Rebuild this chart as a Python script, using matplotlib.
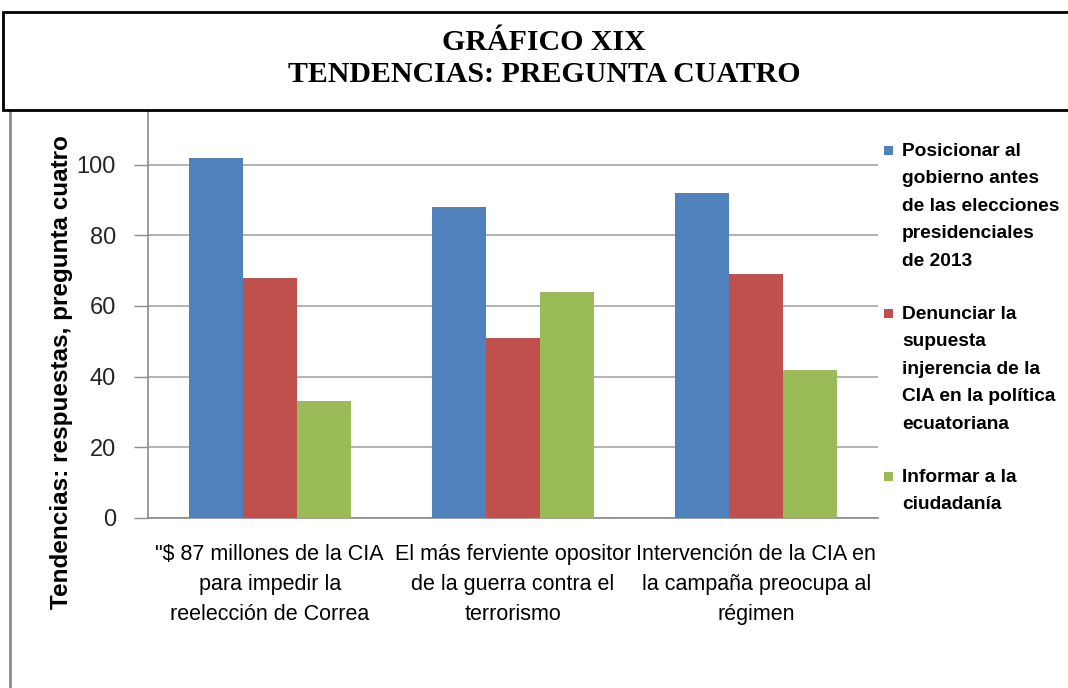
import matplotlib
matplotlib.use('Agg')
import matplotlib.pyplot as plt
from matplotlib.patches import Rectangle
from matplotlib.lines import Line2D
import numpy as np

# ---- data ----
categories = ['"$ 87 millones de la CIA\npara impedir la\nreelección de Correa',
              'El más ferviente opositor\nde la guerra contra el\nterrorismo',
              'Intervención de la CIA en\nla campaña preocupa al\nrégimen']
series_names = ['Posicionar al\ngobierno antes\nde las elecciones\npresidenciales\nde 2013',
                'Denunciar la\nsupuesta\ninjerencia de la\nCIA en la política\necuatoriana',
                'Informar a la\nciudadanía']
posicionar = [102, 88, 92]
denunciar = [68, 51, 69]
informar = [33, 64, 42]
y_ticks = [0, 20, 40, 60, 80, 100]
title_lines = ['GRÁFICO XIX', 'TENDENCIAS: PREGUNTA CUATRO']
y_label = 'Tendencias: respuestas, pregunta cuatro'
colors = ['#4F81BD', '#C0504D', '#9BBB59']

NARROW = ['Liberation Sans Narrow', 'Liberation Sans', 'DejaVu Sans']
SERIF = ['Liberation Serif', 'DejaVu Serif']

W, H = 1068, 688
fig = plt.figure(figsize=(W / 100, H / 100), dpi=100)
fig.patch.set_facecolor('white')


def fx(px):
    return px / W


def fy(py):
    return 1 - py / H


y0_px, ytop_px = 517.8, 94.1  # pixel rows of 0 and 120
ax = fig.add_axes([fx(148), fy(y0_px), fx(878) - fx(148), (y0_px - ytop_px) / H])

series = [posicionar, denunciar, informar]
x = np.arange(len(categories))
bw = 0.2217
for i, (vals, c) in enumerate(zip(series, colors)):
    ax.bar(x + (i - 1) * bw, vals, width=bw, color=c, edgecolor='none', zorder=3)

ax.set_xlim(-0.5, len(categories) - 0.5)
ax.set_ylim(0, 120)
ax.set_yticks(y_ticks)
ax.set_yticklabels([str(v) for v in y_ticks], fontfamily=NARROW, fontsize=17, color='#262626')
ax.set_xticks(x)
ax.set_xticklabels(categories, fontfamily=NARROW, fontsize=15.5, color='black', linespacing=1.55)
ax.tick_params(axis='x', length=0, pad=19)
ax.tick_params(axis='y', length=10, width=1, color='#8c8c8c', pad=13)
ax.yaxis.grid(True, color='#a6a6a6', linewidth=1.2, zorder=0)
ax.set_axisbelow(True)
for s in ['top', 'right']:
    ax.spines[s].set_visible(False)
for s in ['left', 'bottom']:
    ax.spines[s].set_color('#8c8c8c')
    ax.spines[s].set_linewidth(1.2)

# y-axis label
fig.text(fx(62), fy(372), y_label, rotation=90, ha='center', va='center',
         fontfamily=NARROW, fontsize=17.5, fontweight='bold', color='black')

# legend (manual, Excel style)
legend_tops = [150, 313, 476]
for name, c, yc in zip(series_names, colors, legend_tops):
    fig.patches.append(Rectangle((fx(884), fy(yc + 5)), fx(9), 9 / H, transform=fig.transFigure,
                                 facecolor=c, edgecolor='none'))
    fig.text(fx(902), fy(yc - 7), name, ha='left', va='top', fontfamily=NARROW,
             fontsize=13.8, fontweight='bold', color='black', linespacing=1.8)

# title box
fig.patches.append(Rectangle((fx(3), fy(110)), fx(1080), (110 - 12) / H, transform=fig.transFigure,
                             facecolor='white', edgecolor='black', linewidth=2, zorder=10))
fig.text(fx(544), fy(42), title_lines[0], ha='center', va='center', fontfamily=SERIF,
         fontsize=21.5, fontweight='bold', zorder=11)
fig.text(fx(544), fy(75), title_lines[1], ha='center', va='center', fontfamily=SERIF,
         fontsize=21.5, fontweight='bold', zorder=11)

# page border line on the left
fig.lines.append(Line2D([fx(10), fx(10)], [fy(111), 0], transform=fig.transFigure,
                        color='#8c8c8c', linewidth=2))

fig.savefig('out.png', dpi=100)
